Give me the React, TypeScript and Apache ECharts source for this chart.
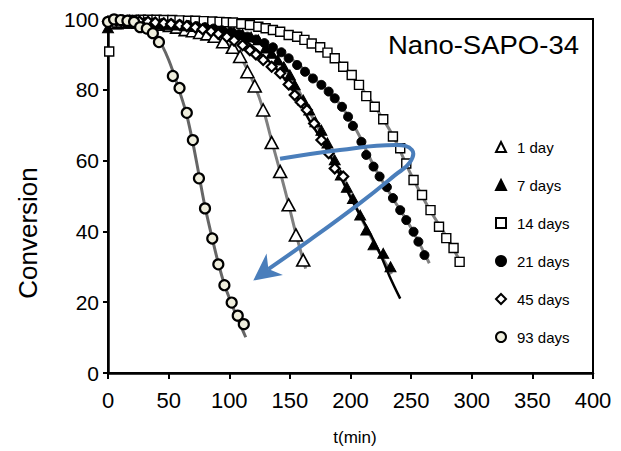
import React, { useEffect, useRef } from "react";
import * as echarts from "echarts";

const FONT = "'Liberation Sans', Arial, sans-serif";

// ---- data (t in min, conversion in %) ----
const day1T = [5, 12, 18, 25, 31, 38, 44, 51, 57, 64, 70, 76, 82, 88, 95, 103, 109, 115, 121, 128, 135, 142, 149, 155, 161];
const day1C = [99.0, 99.2, 99.3, 99.2, 99.0, 98.8, 98.5, 98.2, 97.7, 97.0, 96.7, 96.2, 95.8, 95.1, 93.6, 92.0, 89.4, 85.1, 81.1, 74.3, 65.1, 56.9, 47.5, 39.0, 31.9];
const day1FitT = [0, 40, 70, 90, 100, 110, 120, 128, 135, 142, 149, 155, 163];
const day1FitC = [100, 99, 97, 94.6, 92.6, 88.8, 82, 74.5, 65.6, 56.8, 47.6, 39.3, 29.5];

const day7T = [0, 8, 16, 24, 32, 40, 48, 56, 64, 72, 80, 88, 96, 104, 111, 118, 124, 130, 135, 140, 145, 150, 154, 161, 166, 171, 176, 181, 187, 192, 197, 202, 208, 213, 219, 227, 233];
const day7C = [97.5, 98.6, 98.7, 98.7, 98.6, 98.5, 98.4, 98.3, 98.1, 97.9, 97.6, 97.3, 96.9, 96.3, 95.6, 94.9, 94.1, 91.8, 90.3, 88.4, 86.5, 84.2, 81.4, 77.1, 74.3, 71.0, 68.6, 65.0, 60.2, 55.9, 52.5, 49.3, 44.6, 40.4, 36.2, 33.8, 30.0];
const day7FitT = [0, 60, 100, 120, 135, 150, 165, 180, 195, 210, 222, 234];
const day7FitC = [99, 98.2, 96.5, 94.5, 90.5, 84.3, 74.5, 65, 54, 43, 35.2, 28];

const day14T = [1, 7, 14, 20, 27, 33, 40, 46, 53, 59, 66, 72, 79, 86, 92, 97.5, 103, 110, 117, 124, 130, 136, 142, 149, 156, 162, 168, 175, 181, 187, 194, 201, 207, 213, 220, 227, 235, 241, 246, 252, 259, 266, 273, 279, 285, 290];
const day14C = [90.8, 99.0, 99.5, 99.7, 99.8, 99.8, 99.8, 99.7, 99.7, 99.6, 99.5, 99.5, 99.4, 99.3, 99.2, 99.1, 99.0, 98.6, 98.3, 97.8, 97.4, 96.9, 96.4, 95.5, 95.0, 94.1, 93.1, 92.0, 90.5, 88.9, 86.5, 84.2, 81.4, 78.2, 75.2, 71.7, 66.8, 63.5, 59.2, 54.5, 50.3, 46.0, 41.3, 38.1, 35.3, 31.4];
const day14FitT = [0, 60, 100, 130, 150, 170, 190, 205, 220, 235, 250, 265, 280, 292];
const day14FitC = [100, 99.7, 99.2, 97.5, 95.4, 92.9, 88, 82.3, 75.3, 67, 56, 46.3, 38, 30.5];

const day21T = [3, 10, 17, 24, 31, 38, 45, 52, 59, 66, 73, 80, 87, 94, 101, 108, 115, 122, 129, 136, 143, 149, 156, 162.5, 169, 176, 182, 187, 193, 198, 202, 209, 213, 219, 224, 230, 235, 241, 246, 252, 256, 261];
const day21C = [99.5, 99.5, 99.4, 99.3, 99.2, 99.0, 98.9, 98.7, 98.5, 98.3, 98.0, 97.7, 97.3, 96.8, 96.3, 95.7, 95.0, 94.2, 93.2, 92.0, 90.6, 88.9, 87.0, 85.1, 83.2, 81.4, 79.5, 77.6, 75.2, 72.4, 69.8, 65.3, 61.6, 58.3, 55.5, 52.5, 49.4, 46.0, 43.2, 39.9, 37.1, 33.3];
const day21FitT = [0, 60, 100, 130, 150, 170, 190, 205, 220, 235, 250, 265];
const day21FitC = [100, 98.6, 96.4, 93, 89, 83.2, 76.5, 68.5, 58, 49.3, 41, 31];

const day45T = [0, 7, 13, 20, 26, 33, 39, 46, 52, 59, 65, 72, 78, 85, 91, 98, 104, 111, 117, 122, 128, 135, 142, 149, 154, 159, 164, 170, 176, 182, 187, 194];
const day45C = [99.3, 99.5, 99.5, 99.4, 99.3, 99.2, 99.0, 98.8, 98.6, 98.3, 98.0, 97.6, 97.1, 96.5, 95.8, 94.9, 93.9, 92.6, 91.2, 90.0, 88.4, 86.5, 84.7, 81.5, 78.5, 76.5, 74.3, 70.5, 65.8, 62.1, 57.8, 55.5];
const day45FitT = [0, 50, 90, 110, 125, 140, 155, 165, 175, 183, 191, 200, 208, 216, 224, 232, 241];
const day45FitC = [100, 99.3, 97, 94.5, 90.5, 85.5, 78.5, 72, 66.5, 61.5, 56, 49.6, 44.5, 39.5, 34, 27.5, 21];

const day93T = [0, 5, 10.5, 16, 21.5, 26.5, 32, 37, 42, 53.5, 59, 65, 70, 75, 80, 86, 91, 96, 102, 107, 112];
const day93C = [99.2, 99.9, 99.7, 99.5, 99.2, 97.7, 97.3, 96.0, 93.5, 83.9, 80.5, 73.5, 65.8, 55.0, 46.5, 38.0, 30.7, 24.8, 19.9, 16.2, 13.8];
const day93FitT = [0, 20, 30, 40, 50, 60, 65, 70, 75, 80, 86, 91, 96, 102, 108, 113.6];
const day93FitC = [100, 99.6, 98.3, 95.2, 88.5, 78.5, 72.8, 65, 56, 47, 38, 31, 25, 19.5, 14.5, 10.1];

const legendNames = ["1 day", "7 days", "14 days", "21 days", "45 days", "93 days"];

// blue annotation arrow (data coordinates)
const arrowT = [141.9, 191.3, 237.5, 250.7, 249.1, 236.7, 207.8, 166.6, 133.6];
const arrowC = [60.5, 63.0, 64.4, 63.0, 59.6, 55.9, 48.0, 37.6, 29.7];
const arrowTip = [119.8, 26.1];

const zip = (a: number[], b: number[]) => a.map((v, i) => [v, b[i]]);

export default function App() {
  const ref = useRef<HTMLDivElement>(null);
  useEffect(() => {
    const chart = echarts.init(ref.current!, null, { renderer: "svg" });
    const grey = "#808080";
    const fit = (data: number[][], color: string, width: number) => ({
      type: "line",
      data,
      smooth: 0.35,
      showSymbol: false,
      symbol: "none",
      silent: true,
      lineStyle: { color, width },
      z: 2,
    });
    const scat = (name: string, data: number[][], symbol: string, size: any, fill: string, bw: number) => ({
      type: "scatter",
      name,
      data,
      symbol,
      symbolSize: size,
      itemStyle: { color: fill, borderColor: "#000", borderWidth: bw, opacity: 1 },
      z: 3,
    });
    chart.setOption({
      animation: false,
      backgroundColor: "#fff",
      grid: { left: 108, right: 28, top: 19, bottom: 78, show: true, borderColor: "#000", borderWidth: 2 },
      xAxis: {
        type: "value", min: 0, max: 400, interval: 50,
        axisLine: { show: true, lineStyle: { color: "#000", width: 2.5 } },
        axisTick: { show: true, inside: false, length: 6, lineStyle: { color: "#000", width: 2 } },
        axisLabel: { color: "#000", fontSize: 22, fontFamily: FONT, margin: 16 },
        splitLine: { show: false },
      },
      yAxis: {
        type: "value", min: 0, max: 100, interval: 20,
        axisLine: { show: true, lineStyle: { color: "#000", width: 2.5 } },
        axisTick: { show: true, inside: false, length: 5, lineStyle: { color: "#000", width: 2 } },
        axisLabel: { color: "#000", fontSize: 21, fontFamily: FONT, margin: 9 },
        splitLine: { show: false },
      },
      legend: {
        data: legendNames,
        orient: "vertical",
        left: 495,
        top: 139,
        padding: 0,
        itemWidth: 10,
        itemHeight: 10,
        itemGap: 22,
        selectedMode: false,
        textStyle: { fontSize: 15, fontFamily: FONT, color: "#000", lineHeight: 16, padding: [0, 0, 0, 6] },
      },
      series: [
        fit(zip(day1FitT, day1FitC), grey, 3),
        fit(zip(day7FitT, day7FitC), grey, 3),
        fit(zip(day14FitT, day14FitC), grey, 3),
        fit(zip(day21FitT, day21FitC), grey, 3),
        fit(zip(day45FitT, day45FitC), "#000", 2.5),
        fit(zip(day93FitT, day93FitC), "#666", 3),
        scat("1 day", zip(day1T, day1C), "triangle", [13, 12], "#fff", 1.6),
        scat("7 days", zip(day7T, day7C), "triangle", [11, 10], "#000", 1),
        scat("14 days", zip(day14T, day14C), "rect", 9, "#fff", 1.4),
        scat("21 days", zip(day21T, day21C), "circle", 9, "#000", 1),
        scat("45 days", zip(day45T, day45C), "diamond", 10, "#fff", 2.2),
        scat("93 days", zip(day93T, day93C), "circle", 10, "#efeedd", 2.2),
      ],
    });

    const toPx = (p: number[]) => chart.convertToPixel({ gridIndex: 0 }, p) as number[];
    const pts = zip(arrowT, arrowC).map(toPx);
    const tip = toPx(arrowTip);
    const last = pts[pts.length - 1];
    let dx = tip[0] - last[0], dy = tip[1] - last[1];
    const len = Math.hypot(dx, dy);
    dx /= len; dy /= len;
    const L = 27, W = 13.5, notch = 8;
    const bx = tip[0] - dx * L, by = tip[1] - dy * L;
    const nx = -dy, ny = dx;
    const w1 = [bx + nx * W, by + ny * W];
    const w2 = [bx - nx * W, by - ny * W];
    const nt = [bx + dx * notch, by + dy * notch];
    const linePts = pts.slice(0, -1).concat([nt]);
    const blue = "#4a7ebb";

    chart.setOption({
      graphic: [
        { type: "polyline", shape: { points: linePts, smooth: 0.45 }, style: { stroke: blue, lineWidth: 4, fill: null }, z: 50 },
        { type: "polygon", shape: { points: [tip, w1, nt, w2] }, style: { fill: blue }, z: 51 },
        { type: "text", x: 388, y: 45, scaleX: 1.1, style: { text: "Nano-SAPO-34", font: `25px ${FONT}`, fill: "#000", textVerticalAlign: "middle" }, z: 60 },
        { type: "text", x: 28, y: 233, rotation: Math.PI / 2, style: { text: "Conversion", font: `26px ${FONT}`, fill: "#000", textAlign: "center", textVerticalAlign: "middle" }, z: 60 },
        { type: "text", x: 355, y: 437, style: { text: "t(min)", font: `17px ${FONT}`, fill: "#000", textAlign: "center", textVerticalAlign: "middle" }, z: 60 },
      ],
    });
    return () => chart.dispose();
  }, []);
  return <div ref={ref} style={{ position: "fixed", left: 0, top: 0, width: 621, height: 451, background: "#fff" }} />;
}
